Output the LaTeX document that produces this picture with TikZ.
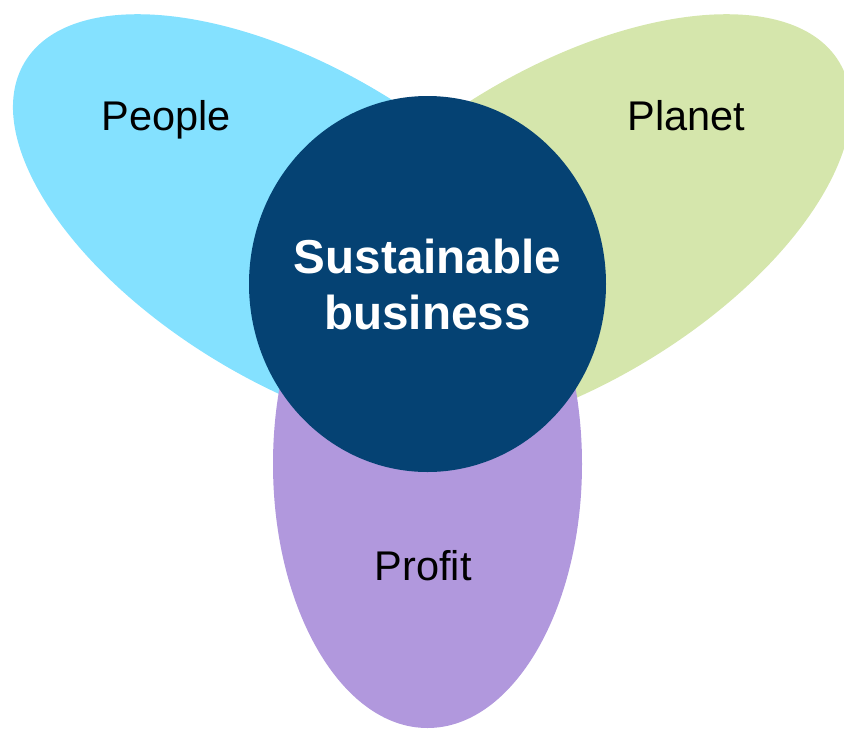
\documentclass[tikz,border=0pt]{standalone}
\usepackage{fontspec}
\setmainfont{Liberation Sans}
\usetikzlibrary{shapes.geometric}

\definecolor{peoplecol}{HTML}{84E1FF}
\definecolor{planetcol}{HTML}{D5E6AC}
\definecolor{profitcol}{HTML}{B198DD}
\definecolor{corecol}{HTML}{054273}

\tikzset{
  petal/.style={ellipse, draw=none, inner sep=0pt, outer sep=0pt},
  petallabel/.style={anchor=base, inner sep=0pt, text=black,
    font=\fontsize{41.5}{48}\selectfont},
  coredisc/.style={ellipse, fill=corecol, draw=none, inner sep=0pt, outer sep=0pt},
  corelabel/.style={inner sep=0pt, text=white, align=center,
    font=\fontsize{47.6}{56}\bfseries\selectfont}
}

\begin{document}
\begin{tikzpicture}[x=1pt,y=-1pt]
  % canvas: 844 x 729, y grows downwards
  \clip (0,0) rectangle (844,729);

  % three petals
  \node[petal, fill=peoplecol, minimum width=640pt, minimum height=314pt,
        rotate=-31] (people) at (299,227) {};
  \node[petal, fill=planetcol, minimum width=640pt, minimum height=314pt,
        rotate=31] (planet) at (565,227) {};
  \node[petal, fill=profitcol, minimum width=309pt, minimum height=528pt]
        (profit) at (427.5,464) {};

  % centre disc
  \node[coredisc, minimum width=357pt, minimum height=376pt]
        (core) at (427.5,284) {};
  \node[corelabel] (coretext) at (core.center) {Sustainable\\business};

  % petal labels
  \node[petallabel] (peopletext) at (166,130.7) {People};
  \node[petallabel] (planettext) at (686.5,130.7) {Planet};
  \node[petallabel] (profittext) at (423.3,580) {Profit};
\end{tikzpicture}
\end{document}
